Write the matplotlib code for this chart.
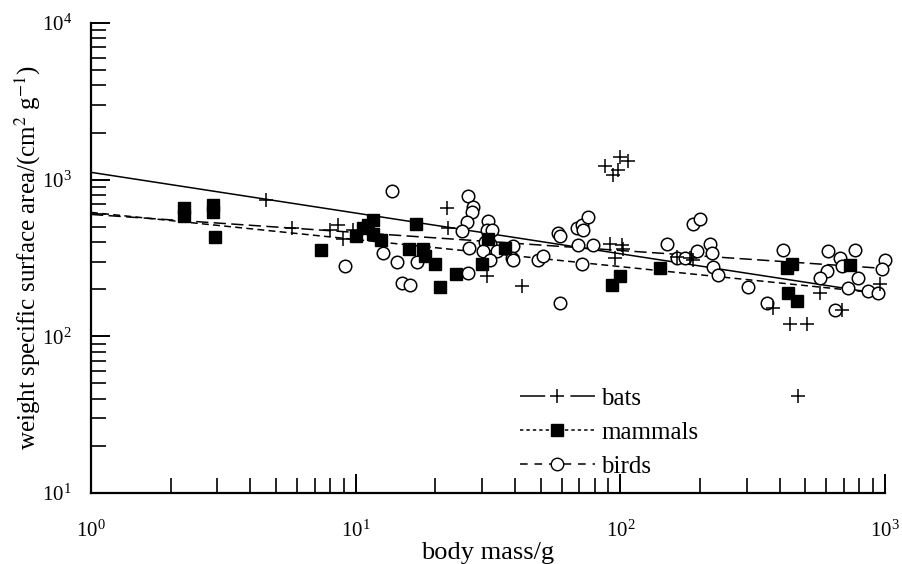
import matplotlib
matplotlib.use("Agg")
import matplotlib.pyplot as plt
from matplotlib.lines import Line2D
from matplotlib.ticker import LogLocator, LogFormatterMathtext, NullFormatter

plt.rcParams['font.family'] = ['Liberation Serif', 'DejaVu Serif']
plt.rcParams['mathtext.fontset'] = 'stix'

# body mass (g) and weight specific surface area (cm2/g)
bat_mass = [4.58, 5.75, 8.0, 8.6, 8.96, 9.8, 22.1, 22.3, 31.3, 42.5,
            87.5, 93.8, 98, 99.6, 107, 91.4, 101, 102, 95.4, 164,
            183, 188, 568, 687, 377, 437, 507, 956, 469]
bat_area = [738, 488, 474, 510, 421, 474, 655, 495, 244, 211,
            1216, 1066, 1148, 1391, 1310, 391, 385, 363, 318, 323,
            318, 305, 188, 148, 152, 120, 120, 217, 41.7]

mammal_mass = [2.25, 2.25, 2.9, 2.9, 2.95, 7.4, 10.0, 10.7, 11.1, 11.6,
               11.6, 12.5, 15.9, 16.9, 17.9, 18.3, 20.0, 20.8, 23.9, 30.0,
               31.6, 36.6, 93, 99.6, 141, 426, 445, 430, 465, 737]
mammal_area = [655, 582, 685, 618, 428, 358, 440, 488, 510, 549,
               453, 409, 363, 525, 363, 328, 291, 205, 251, 291,
               421, 369, 214, 244, 275, 275, 291, 188, 169, 287]

bird_mass = [9.1, 12.7, 13.7, 14.3, 15.0, 16.0, 17.1,
             26.6, 27.7, 27.5, 26.3, 25.2, 26.8, 26.6,
             31.6, 31.3, 32.7, 30.8, 32.2, 30.3, 34.2, 32.2,
             39.3, 38.9, 39.3, 48.9, 51.0, 59.2, 58.1, 59.2,
             68.6, 71.6, 75.5, 72.3, 69.2, 78.8, 71.6,
             150, 164, 175, 188, 200, 195, 218, 222, 224, 234,
             303, 358, 411, 608, 603, 676, 687, 769, 790, 724,
             862, 940, 1000, 973, 647, 568]
bird_area = [283, 338, 841, 300, 220, 214, 296,
             781, 665, 618, 533, 467, 369, 255,
             541, 474, 474, 403, 391, 353, 353, 305,
             380, 318, 305, 309, 328, 164, 460, 434,
             488, 510, 574, 474, 385, 385, 291,
             391, 318, 318, 525, 565, 348, 391, 338, 279, 248,
             205, 164, 358, 353, 263, 318, 283, 358, 237, 202,
             196, 190, 305, 271, 148, 234]

# regression lines, end values
fit_mass = [1, 1000]
bat_fit = [1114, 185]
mammal_fit = [618, 187]
bird_fit = [600, 271]

fig = plt.figure(figsize=(9.02, 5.64), dpi=100)
ax = fig.add_axes([0.1009, 0.1259, 0.8803, 0.8333])

lw = 1.1
ax.plot(fit_mass, bat_fit, color='k', lw=lw, ls='-')
ax.plot(fit_mass, mammal_fit, color='k', lw=lw, ls=(0, (4.5, 2.8)))
ax.plot(fit_mass, bird_fit, color='k', lw=lw, ls=(0, (8, 3.5)))

ax.plot(bird_mass, bird_area, ls='none', marker='o', ms=9, mfc='white',
        mec='k', mew=1.1, clip_on=False, zorder=3)
ax.plot(mammal_mass, mammal_area, ls='none', marker='s', ms=9, mfc='k',
        mec='k', clip_on=False, zorder=4)
ax.plot(bat_mass, bat_area, ls='none', marker='+', ms=10, mec='k',
        mew=1.1, clip_on=False, zorder=5)

ax.set_xscale('log')
ax.set_yscale('log')
ax.set_xlim(1, 1000)
ax.set_ylim(10, 10000)

for axis in (ax.xaxis, ax.yaxis):
    axis.set_major_locator(LogLocator(base=10))
    axis.set_minor_locator(LogLocator(base=10, subs=range(2, 10)))
    axis.set_major_formatter(LogFormatterMathtext())
    axis.set_minor_formatter(NullFormatter())

ax.spines['top'].set_visible(False)
ax.spines['right'].set_visible(False)
ax.spines['left'].set_linewidth(1.6)
ax.spines['bottom'].set_linewidth(1.6)
ax.tick_params(which='major', direction='in', length=14, width=1.4,
               labelsize=15)
ax.tick_params(which='minor', direction='in', length=11, width=1.2)
ax.tick_params(axis='y', which='major', pad=14)
ax.tick_params(axis='x', which='major', pad=20)

ax.set_xlabel('body mass/g', fontsize=19, labelpad=0)
ax.set_ylabel(r'weight specific surface area/(cm$^2$ g$^{-1}$)',
              fontsize=18, labelpad=-1)

# legend handles: gaps either side of the marker like the original key
handles = [
    Line2D([], [], color='k', lw=lw, ls=(0, (16.5, 16.5)), marker='+',
           ms=10, mew=1.1),
    Line2D([], [], color='k', lw=lw, ls=(0, (2.2, 2)), marker='s', ms=9),
    Line2D([], [], color='k', lw=lw, ls=(0, (5, 4.5)), marker='o', ms=9,
           mfc='white', mew=1.0),
]
ax.legend(handles, ['bats', 'mammals', 'birds'], loc='upper left',
          bbox_to_anchor=(0.54, 0.224), frameon=False, numpoints=1,
          handlelength=3.0, handletextpad=0.25, labelspacing=0.45,
          borderpad=0, borderaxespad=0, fontsize=18)

fig.savefig('out.png', dpi=100)
